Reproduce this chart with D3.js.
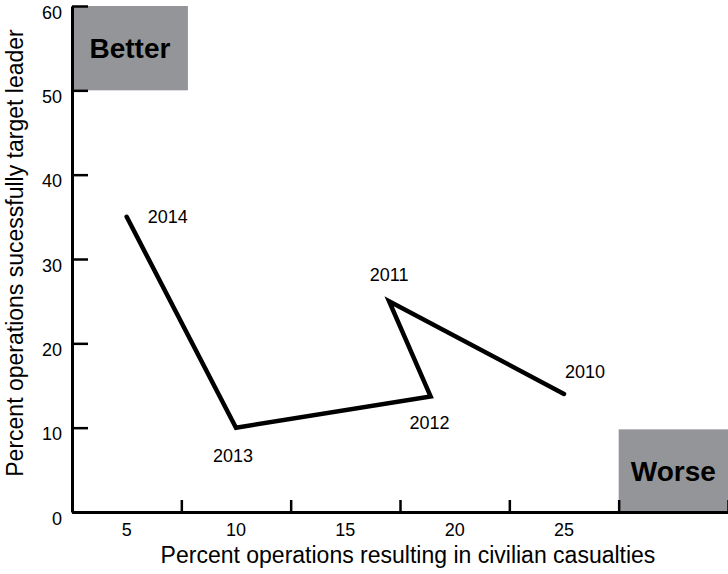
<!DOCTYPE html>
<html>
<head>
<meta charset="utf-8">
<script src="https://cdn.jsdelivr.net/npm/d3@7"></script>
<style>
  html, body { margin: 0; padding: 0; background: #fff; }
  svg { display: block; font-family: "Liberation Sans", Arial, Helvetica, sans-serif; }
</style>
</head>
<body>
<svg id="chart" width="728" height="574"></svg>
<script>
// ---- data ----
const years = ["2014", "2013", "2012", "2011", "2010"];
const casualtiesPct = [5, 10, 18.9, 17, 25];       // x values
const leaderPct = [35, 10, 13.7, 25, 14];          // y values
const xTickLabels = [5, 10, 15, 20, 25];
const xTickBounds = [2.5, 7.5, 12.5, 17.5, 22.5, 27.5, 32.5];
const yTickLabels = [0, 10, 20, 30, 40, 50, 60];
const regionNames = ["Better", "Worse"];
const regionX = [[2.5, 7.8], [27.5, 32.5]];
const regionY = [[50, 60], [0, 9.8]];

// ---- layout / style ----
const W = 728, H = 574;
const plot = { left: 72, right: 728, top: 6, bottom: 512 };
const labelOffsets = [[41, 6], [-3, 34], [-1, 33], [0, -20], [21, -16]];
const gray = "#939598";

const svg = d3.select("#chart");
const x = d3.scaleLinear().domain([2.5, 32.5]).range([plot.left, plot.right]);
const y = d3.scaleLinear().domain([0, 60]).range([plot.bottom, plot.top]);

// regions
const regions = regionNames.map((n, i) => ({ name: n, x: regionX[i], y: regionY[i] }));
const rg = svg.append("g");
rg.selectAll("rect").data(regions).join("rect")
  .attr("x", d => x(d.x[0]))
  .attr("y", d => y(d.y[1]))
  .attr("width", d => x(d.x[1]) - x(d.x[0]))
  .attr("height", d => y(d.y[0]) - y(d.y[1]))
  .attr("fill", gray);
rg.selectAll("text").data(regions).join("text")
  .attr("x", d => (x(d.x[0]) + x(d.x[1])) / 2)
  .attr("y", d => (y(d.y[0]) + y(d.y[1])) / 2)
  .attr("dy", "0.36em")
  .attr("text-anchor", "middle")
  .attr("font-size", 28)
  .attr("font-weight", "bold")
  .attr("fill", "#000")
  .text(d => d.name);

// x axis: tick marks at band boundaries, labels in between
const xAxis = svg.append("g").attr("transform", `translate(0,${plot.bottom})`)
  .call(d3.axisBottom(x).tickValues(xTickBounds).tickSize(-12).tickSizeOuter(0).tickFormat(""));
xAxis.select(".domain").attr("stroke", "#000").attr("stroke-width", 3);
xAxis.selectAll(".tick line").attr("stroke", "#000").attr("stroke-width", 2.5);
svg.append("g").selectAll("text").data(xTickLabels).join("text")
  .attr("x", d => x(d))
  .attr("y", plot.bottom + 24)
  .attr("text-anchor", "middle")
  .attr("font-size", 18)
  .text(d => d);

// y axis
const yAxis = svg.append("g").attr("transform", `translate(${plot.left},0)`)
  .call(d3.axisLeft(y).tickValues(yTickLabels).tickSize(-16).tickSizeOuter(0).tickPadding(10));
yAxis.select(".domain").attr("stroke", "#000").attr("stroke-width", 3);
yAxis.selectAll(".tick line").attr("stroke", "#000").attr("stroke-width", 2.5);
yAxis.selectAll(".tick text")
  .attr("font-size", 18)
  .attr("font-family", "Liberation Sans, Arial, Helvetica, sans-serif")
  .attr("fill", "#000")
  .attr("x", -10)
  .attr("dy", "0.68em");

// line
const pts = years.map((yr, i) => ({ year: yr, x: casualtiesPct[i], y: leaderPct[i], off: labelOffsets[i] }));
svg.append("path")
  .datum(pts)
  .attr("fill", "none")
  .attr("stroke", "#000")
  .attr("stroke-width", 4.5)
  .attr("stroke-linejoin", "miter")
  .attr("stroke-linecap", "round")
  .attr("d", d3.line().x(d => x(d.x)).y(d => y(d.y)));

// point labels
svg.append("g").selectAll("text").data(pts).join("text")
  .attr("x", d => x(d.x) + d.off[0])
  .attr("y", d => y(d.y) + d.off[1])
  .attr("text-anchor", "middle")
  .attr("font-size", 18)
  .text(d => d.year);

// axis titles
svg.append("text")
  .attr("x", 408)
  .attr("y", 563)
  .attr("text-anchor", "middle")
  .attr("font-size", 23)
  .text("Percent operations resulting in civilian casualties");
svg.append("text")
  .attr("transform", "translate(23,253) rotate(-90)")
  .attr("text-anchor", "middle")
  .attr("font-size", 23)
  .text("Percent operations sucessfully target leader");
</script>
</body>
</html>
